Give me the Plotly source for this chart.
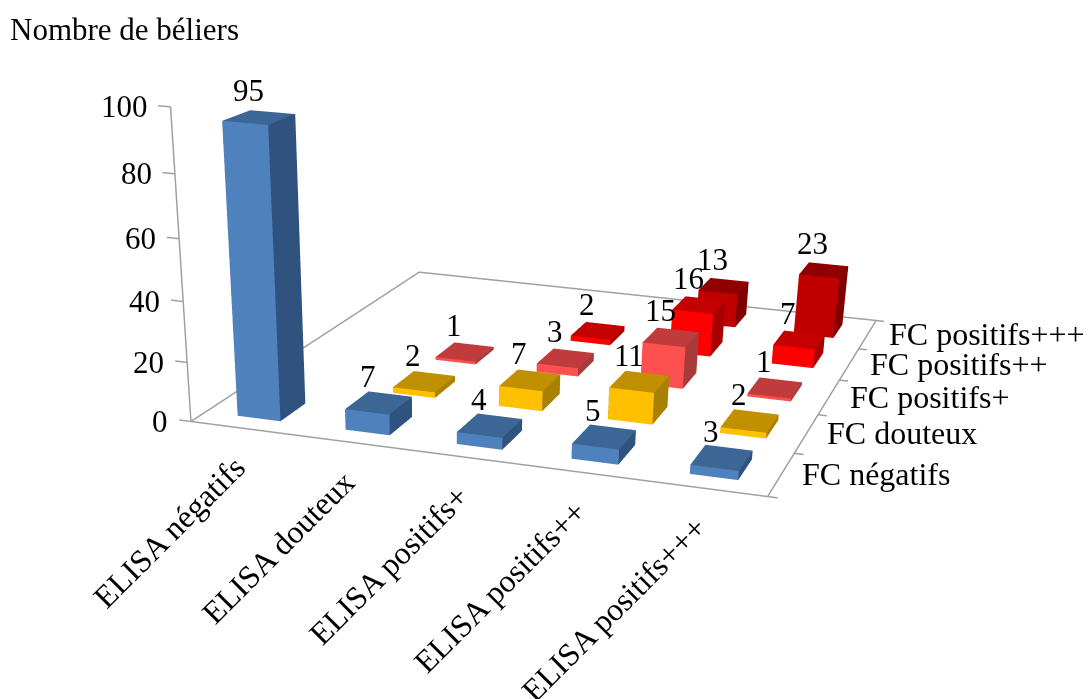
import plotly.graph_objects as go

# Categories
elisa = ["ELISA négatifs", "ELISA douteux", "ELISA positifs+", "ELISA positifs++", "ELISA positifs+++"]
fc = ["FC négatifs", "FC douteux", "FC positifs+", "FC positifs++", "FC positifs+++"]

# Number of rams per FC class, one value per ELISA class (None: no bar)
fc_negatifs = [95, 7, 4, 5, 3]
fc_douteux = [None, 2, 7, 11, 2]
fc_positifs1 = [None, 1, 3, 15, 1]
fc_positifs2 = [None, None, 2, 16, 7]
fc_positifs3 = [None, None, None, 13, 23]
series = [fc_negatifs, fc_douteux, fc_positifs1, fc_positifs2, fc_positifs3]

z_ticks = [0, 20, 40, 60, 80, 100]

# (front, top, side) face colours of each series
palette = [
    ("#4F81BD", "#3C6696", "#2F527E"),
    ("#FFC000", "#C09000", "#A98000"),
    ("#FF5050", "#C03C3C", "#A83A3A"),
    ("#FF0000", "#C40000", "#A80000"),
    ("#C00000", "#900000", "#800000"),
]

FONT = "Liberation Serif"
TEXT_SIZE = 31
AXIS_LABEL_SIZE = 32
LINE = "#a0a0a0"
BAR_HALF_X = 0.2
BAR_HALF_Y = 0.24


def bar_mesh(cx, cy, value, colours):
    front, top, side = colours
    x0, x1 = cx - BAR_HALF_X, cx + BAR_HALF_X
    y0, y1 = cy - BAR_HALF_Y, cy + BAR_HALF_Y
    xs = [x0, x1, x1, x0, x0, x1, x1, x0]
    ys = [y0, y0, y1, y1, y0, y0, y1, y1]
    zs = [0, 0, 0, 0, value, value, value, value]
    i = [0, 0, 4, 4, 1, 1, 0, 0, 3, 3, 0, 0]
    j = [1, 5, 5, 6, 2, 6, 3, 7, 2, 6, 1, 2]
    k = [5, 4, 6, 7, 6, 5, 7, 4, 6, 7, 2, 3]
    colors = [front, front, top, top, side, side, side, side, side, side, side, side]
    return go.Mesh3d(
        x=xs, y=ys, z=zs, i=i, j=j, k=k, facecolor=colors, flatshading=True,
        lighting=dict(ambient=1, diffuse=0, specular=0, fresnel=0, roughness=1),
        hoverinfo="skip", showscale=False,
    )


def guide(xs, ys, zs):
    return go.Scatter3d(x=xs, y=ys, z=zs, mode="lines", line=dict(color=LINE, width=3),
                        hoverinfo="skip", showlegend=False)


fig = go.Figure()

# Floor outline and the vertical value axis with its tick marks
fig.add_trace(guide([0, 5, 5, 0, 0], [0, 0, 5, 5, 0], [0, 0, 0, 0, 0]))
fig.add_trace(guide([0, 0], [0, 0], [0, 100]))
for t in z_ticks:
    fig.add_trace(guide([0, -0.11], [0, 0], [t, t]))
for n in range(6):
    fig.add_trace(guide([5, 5.08], [n, n], [0, 0]))

annotations = []


def label(text, x, y, z, size=TEXT_SIZE, **kw):
    annotations.append(dict(text=text, x=x, y=y, z=z, showarrow=False,
                            font=dict(family=FONT, size=size, color="black"), **kw))


# Bars and their value labels
for row, values in enumerate(series):
    for col, value in enumerate(values):
        if value is None:
            continue
        fig.add_trace(bar_mesh(col + 0.5, row + 0.5, value, palette[row]))
        label(str(value), col + 0.5, row + 0.5, value, xshift=-11, yshift=7, yanchor="bottom")

# Axis labels
for t in z_ticks:
    label(str(t), 0, 0, t, xanchor="right", xshift=-21)
for col, name in enumerate(elisa):
    label(name, col + 0.5, 0, 0, size=AXIS_LABEL_SIZE, textangle=-45,
          xanchor="right", yanchor="top", xshift=10, yshift=-18)
for row, name in enumerate(fc):
    label(name, 5, row + 0.5, 0, size=AXIS_LABEL_SIZE, xanchor="left", xshift=19)

# The axis ranges leave room for the tick marks, so the aspect ratio grows with them
X_RANGE = [-0.3, 5.3]
Y_RANGE = [-0.3, 5.3]
Z_RANGE = [-5, 105]
hidden = dict(visible=False, showspikes=False)

fig.update_layout(
    width=1089, height=1608, autosize=False,
    margin=dict(l=0, r=0, t=0, b=0, pad=0),
    paper_bgcolor="white", showlegend=False,
    scene=dict(
        domain=dict(x=[0, 1], y=[0, 1]),
        dragmode="orbit",
        xaxis=dict(range=X_RANGE, **hidden),
        yaxis=dict(range=Y_RANGE, **hidden),
        zaxis=dict(range=Z_RANGE, **hidden),
        aspectmode="manual",
        aspectratio=dict(x=1.3148 * 5.6 / 5, y=1.4544 * 5.6 / 5, z=0.6729 * 1.1),
        camera=dict(
            eye=dict(x=1.3191, y=-4.5251, z=1.0595),
            center=dict(x=0.2967, y=-1.0703, z=-0.9555),
            up=dict(x=-0.0251, y=-0.0073, z=1),
            projection=dict(type="perspective"),
        ),
        annotations=annotations,
    ),
    annotations=[dict(text="Nombre de béliers", xref="paper", yref="paper", x=0, y=1,
                      xanchor="left", yanchor="top", xshift=8, yshift=-10, showarrow=False,
                      font=dict(family=FONT, size=TEXT_SIZE, color="black"))],
)

fig.write_html("out.html", config=dict(displayModeBar=False),
               post_script="document.documentElement.style.overflow='hidden';document.body.style.overflow='hidden';")
